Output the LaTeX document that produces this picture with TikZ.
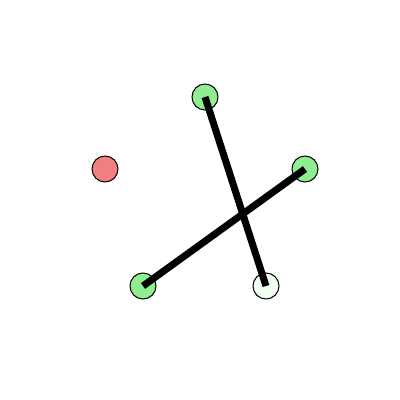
\documentclass[tikz,border=0pt]{standalone}
\usepackage{tikz}
\usetikzlibrary{positioning, calc}
\definecolor{vtxred}{HTML}{F08080}
\definecolor{vtxgreen}{HTML}{90EE90}
\definecolor{vtxpale}{HTML}{F0FFF0}
\tikzset{
    vertex/.style={circle, draw=black, line width=0.3pt, inner sep=0pt, minimum size=0.26cm},
    edge/.style={line width=2pt}
}

\begin{document}
\begin{tikzpicture}[x=0.01cm, y=-0.01cm]

    % --- Canvas ---
    \useasboundingbox (0,0) rectangle (400,400);

    % --- Vertices ---
    \node[vertex, fill=vtxred]   (v1) at (105,169) {};
    \node[vertex, fill=vtxgreen] (v2) at (205,97)  {};
    \node[vertex, fill=vtxgreen] (v3) at (305,169) {};
    \node[vertex, fill=vtxgreen] (v4) at (143,286) {};
    \node[vertex, fill=vtxpale]  (v5) at (266,286) {};

    % --- Crossing Edges ---
    \draw[edge] (v2.center) -- (v5.center);
    \draw[edge] (v3.center) -- (v4.center);

\end{tikzpicture}
\end{document}
